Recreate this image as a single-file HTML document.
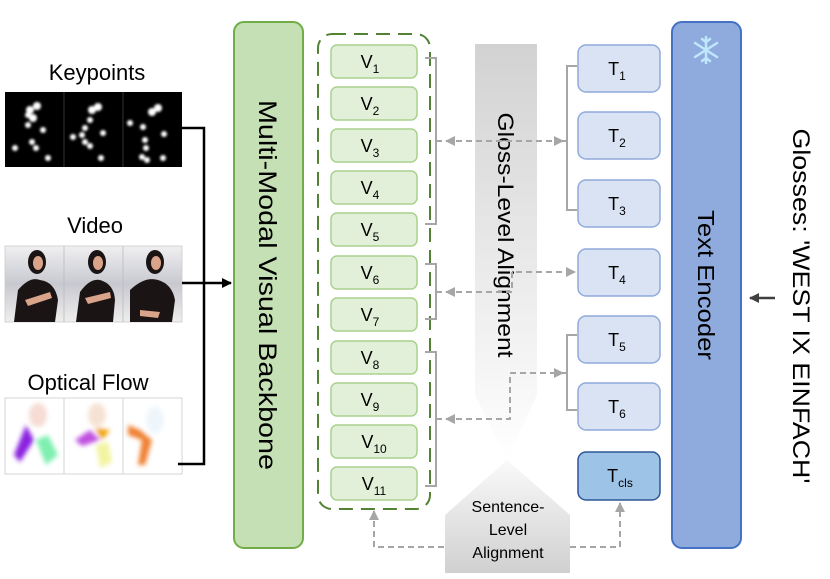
<!DOCTYPE html>
<html><head><meta charset="utf-8"><style>
html,body{margin:0;padding:0;background:#fff;}
svg{display:block;font-family:"Liberation Sans",sans-serif;}
</style></head><body>
<svg width="830" height="579" viewBox="0 0 830 579" xmlns="http://www.w3.org/2000/svg">
<defs>
<linearGradient id="gb" x1="0" y1="0" x2="0" y2="1"><stop offset="0" stop-color="#d2d2d2"/><stop offset="1" stop-color="#ffffff"/></linearGradient>
<linearGradient id="sb" x1="0" y1="0" x2="0" y2="1"><stop offset="0" stop-color="#fafafa"/><stop offset="1" stop-color="#d0d0d0"/></linearGradient>
<linearGradient id="vid" x1="0" y1="0" x2="0" y2="1"><stop offset="0" stop-color="#f0f0f2"/><stop offset="0.5" stop-color="#c8c9d0"/><stop offset="1" stop-color="#eeeeee"/></linearGradient>
<filter id="bl"><feGaussianBlur stdDeviation="1.2"/></filter>
<filter id="bl2"><feGaussianBlur stdDeviation="2.5"/></filter>
<marker id="ah" viewBox="0 0 10 10" refX="9" refY="5" markerWidth="5" markerHeight="5" orient="auto-start-reverse"><path d="M0,0L10,5L0,10z" fill="#a6a6a6"/></marker>
<marker id="bk" viewBox="0 0 10 10" refX="9" refY="5" markerWidth="4" markerHeight="4" orient="auto"><path d="M0,0L10,5L0,10z" fill="#000"/></marker>
<marker id="dk" viewBox="0 0 10 10" refX="9" refY="5" markerWidth="4" markerHeight="4" orient="auto"><path d="M0,0L10,5L0,10z" fill="#404040"/></marker>
</defs>

<text x="97" y="80" font-size="22" text-anchor="middle">Keypoints</text>
<text x="95" y="233" font-size="22" text-anchor="middle">Video</text>
<text x="88" y="390" font-size="22" text-anchor="middle">Optical Flow</text>

<rect x="5" y="92" width="177" height="75" fill="#000"/>
<g fill="#fff" filter="url(#bl)">
<circle cx="30" cy="110" r="4"/><circle cx="37" cy="106" r="4"/><circle cx="33" cy="118" r="4"/><circle cx="28" cy="125" r="3"/><circle cx="43" cy="130" r="3"/><circle cx="15" cy="148" r="3"/><circle cx="32" cy="142" r="3"/><circle cx="36" cy="148" r="3"/><circle cx="48" cy="158" r="3"/><circle cx="28" cy="115" r="3"/>
<circle cx="92" cy="110" r="4"/><circle cx="98" cy="107" r="4"/><circle cx="90" cy="120" r="3"/><circle cx="85" cy="128" r="3"/><circle cx="82" cy="135" r="3"/><circle cx="85" cy="142" r="3"/><circle cx="90" cy="146" r="3"/><circle cx="73" cy="137" r="3"/><circle cx="103" cy="133" r="3"/><circle cx="101" cy="158" r="3"/>
<circle cx="152" cy="112" r="4"/><circle cx="158" cy="108" r="4"/><circle cx="130" cy="123" r="3"/><circle cx="143" cy="127" r="3"/><circle cx="145" cy="140" r="3"/><circle cx="146" cy="148" r="3"/><circle cx="142" cy="157" r="3"/><circle cx="147" cy="160" r="3"/><circle cx="164" cy="134" r="3"/><circle cx="163" cy="158" r="3"/>
</g>
<line x1="64" y1="92" x2="64" y2="167" stroke="#555" stroke-width="0.6"/><line x1="123" y1="92" x2="123" y2="167" stroke="#555" stroke-width="0.6"/>

<rect x="5" y="246" width="177" height="76" fill="url(#vid)" stroke="#ccc" stroke-width="0.8"/>
<g fill="#1a1414">
<ellipse cx="37" cy="262" rx="9" ry="12"/><path d="M14,322 L18,290 Q30,276 40,280 Q55,282 58,300 L55,322z"/>
<ellipse cx="97" cy="262" rx="9" ry="12"/><path d="M76,322 L80,292 Q90,278 100,280 Q114,284 115,300 L113,322z"/>
<ellipse cx="155" cy="262" rx="9" ry="12"/><path d="M130,322 L130,290 Q145,276 158,280 Q172,284 175,300 L172,322z"/>
</g>
<g fill="#d9a48a"><ellipse cx="38" cy="263" rx="5" ry="7"/><ellipse cx="98" cy="263" rx="5" ry="7"/><ellipse cx="156" cy="263" rx="5" ry="7"/>
<path d="M25,300 L50,292 L52,298 L28,306z"/><path d="M85,298 L110,292 L111,298 L88,304z"/><path d="M140,310 L160,312 L158,318 L140,316z"/></g>
<line x1="64" y1="246" x2="64" y2="322" stroke="#bbb" stroke-width="0.8"/><line x1="123" y1="246" x2="123" y2="322" stroke="#bbb" stroke-width="0.8"/>

<rect x="5" y="398" width="177" height="76" fill="#fff" stroke="#ccc" stroke-width="0.8"/>
<g filter="url(#bl2)">
<ellipse cx="38" cy="415" rx="9" ry="12" fill="#f6dcd4"/><path d="M26,425 L14,455 L20,462 L34,440z" fill="#8a20e0"/><path d="M36,440 L46,465 L58,455 L48,435z" fill="#7fefb0"/>
<ellipse cx="97" cy="415" rx="9" ry="12" fill="#f6e2d4"/><path d="M90,430 L75,440 L82,446 L100,440z" fill="#c050e0"/><path d="M95,428 L102,440 L110,430z" fill="#f0a000"/><path d="M96,445 L100,468 L112,462 L108,442z" fill="#f2f4a0"/>
<ellipse cx="155" cy="420" rx="9" ry="14" fill="#eef6fc"/><path d="M128,425 L140,430 L152,440 L145,465 L138,465 L142,440 L128,435z" fill="#f08030"/>
</g>
<line x1="64" y1="398" x2="64" y2="474" stroke="#ccc" stroke-width="0.8"/><line x1="123" y1="398" x2="123" y2="474" stroke="#ccc" stroke-width="0.8"/>

<path d="M182,128 H204 V464 H178" fill="none" stroke="#000" stroke-width="2.5"/>
<line x1="182" y1="283" x2="231" y2="283" stroke="#000" stroke-width="2.5" marker-end="url(#bk)"/>

<rect x="234" y="22" width="69" height="526" rx="10" fill="#c5e0b4" stroke="#70ad47" stroke-width="2"/>
<text transform="translate(259,285) rotate(90)" font-size="25" text-anchor="middle" textLength="370" lengthAdjust="spacingAndGlyphs">Multi-Modal Visual Backbone</text>

<rect x="318" y="34" width="112" height="475" rx="14" fill="none" stroke="#548235" stroke-width="2" stroke-dasharray="14,8"/>
<g fill="#e2f0d9" stroke="#a9d18e" stroke-width="1.5">
<rect x="331" y="45" width="86" height="33" rx="6"/><rect x="331" y="87" width="86" height="33" rx="6"/><rect x="331" y="129" width="86" height="33" rx="6"/><rect x="331" y="171" width="86" height="33" rx="6"/><rect x="331" y="213" width="86" height="33" rx="6"/><rect x="331" y="256" width="86" height="33" rx="6"/><rect x="331" y="298" width="86" height="33" rx="6"/><rect x="331" y="341" width="86" height="33" rx="6"/><rect x="331" y="383" width="86" height="33" rx="6"/><rect x="331" y="425" width="86" height="33" rx="6"/><rect x="331" y="467" width="86" height="33" rx="6"/>
</g>
<g font-size="18" text-anchor="middle">
<text x="370" y="68">V<tspan font-size="12" dy="5">1</tspan></text>
<text x="370" y="110">V<tspan font-size="12" dy="5">2</tspan></text>
<text x="370" y="152">V<tspan font-size="12" dy="5">3</tspan></text>
<text x="370" y="194">V<tspan font-size="12" dy="5">4</tspan></text>
<text x="370" y="236">V<tspan font-size="12" dy="5">5</tspan></text>
<text x="370" y="279">V<tspan font-size="12" dy="5">6</tspan></text>
<text x="370" y="321">V<tspan font-size="12" dy="5">7</tspan></text>
<text x="370" y="364">V<tspan font-size="12" dy="5">8</tspan></text>
<text x="370" y="406">V<tspan font-size="12" dy="5">9</tspan></text>
<text x="374" y="448">V<tspan font-size="12" dy="5">10</tspan></text>
<text x="374" y="490">V<tspan font-size="12" dy="5">11</tspan></text>
</g>

<path d="M475,44 H537 V395 L507,460 L475,395z" fill="url(#gb)"/>
<text transform="translate(498,235) rotate(90)" font-size="22" text-anchor="middle" textLength="245" lengthAdjust="spacingAndGlyphs">Gloss-Level Alignment</text>
<path d="M507,460 L570,515 V573 H445 V515z" fill="url(#sb)"/>
<g font-size="16" text-anchor="middle"><text x="508" y="512">Sentence-</text><text x="508" y="535">Level</text><text x="508" y="558">Alignment</text></g>

<g fill="#dae3f3" stroke="#8faadc" stroke-width="1.5">
<rect x="578" y="45" width="82" height="47" rx="8"/><rect x="578" y="112" width="82" height="47" rx="8"/><rect x="578" y="180" width="82" height="47" rx="8"/><rect x="578" y="249" width="82" height="47" rx="8"/><rect x="578" y="316" width="82" height="47" rx="8"/><rect x="578" y="383" width="82" height="47" rx="8"/>
</g>
<rect x="578" y="452" width="82" height="48" rx="8" fill="#9dc3e6" stroke="#2f5597" stroke-width="1.5"/>
<g font-size="18" text-anchor="middle">
<text x="617" y="75">T<tspan font-size="12" dy="5">1</tspan></text>
<text x="617" y="142">T<tspan font-size="12" dy="5">2</tspan></text>
<text x="617" y="210">T<tspan font-size="12" dy="5">3</tspan></text>
<text x="617" y="279">T<tspan font-size="12" dy="5">4</tspan></text>
<text x="617" y="346">T<tspan font-size="12" dy="5">5</tspan></text>
<text x="617" y="413">T<tspan font-size="12" dy="5">6</tspan></text>
<text x="620" y="482">T<tspan font-size="12" dy="5">cls</tspan></text>
</g>

<g fill="none" stroke="#a6a6a6" stroke-width="2">
<path d="M425,58 H436 V224 H425 M436,141 H442"/>
<path d="M425,264 H436 V319 H425 M436,292 H442"/>
<path d="M425,352 H436 V486 H425 M436,419 H442"/>
<path d="M577,66 H567 V210 H577 M567,141 H562"/>
<path d="M577,335 H567 V410 H577 M567,373 H562"/>
</g>
<g fill="none" stroke="#a6a6a6" stroke-width="2" stroke-dasharray="6,4">
<line x1="446" y1="141" x2="563" y2="141" marker-start="url(#ah)" marker-end="url(#ah)"/>
<path d="M446,292 H512 V272 H575" marker-start="url(#ah)" marker-end="url(#ah)"/>
<path d="M446,419 H510 V373 H563" marker-start="url(#ah)" marker-end="url(#ah)"/>
<path d="M374,511 V547 H445" marker-start="url(#ah)"/>
<path d="M570,547 H620 V503" marker-end="url(#ah)"/>
</g>

<rect x="672" y="22" width="69" height="526" rx="10" fill="#8faadc" stroke="#4472c4" stroke-width="2"/>
<text transform="translate(698,285) rotate(90)" font-size="23" text-anchor="middle" textLength="150" lengthAdjust="spacingAndGlyphs">Text Encoder</text>
<g stroke="#bfe8fb" stroke-width="2.5" stroke-linecap="round" fill="none">
<path d="M706,37 V63 M695,43 L717,57 M695,57 L717,43"/>
<path d="M702,39 L706,42 L710,39 M702,61 L706,58 L710,61"/>
</g>
<line x1="775" y1="298" x2="750" y2="298" stroke="#404040" stroke-width="2.5" marker-end="url(#dk)"/>
<text transform="translate(793,306) rotate(90)" font-size="24" text-anchor="middle" textLength="355" lengthAdjust="spacingAndGlyphs">Glosses: 'WEST IX EINFACH'</text>
</svg>
</body></html>
